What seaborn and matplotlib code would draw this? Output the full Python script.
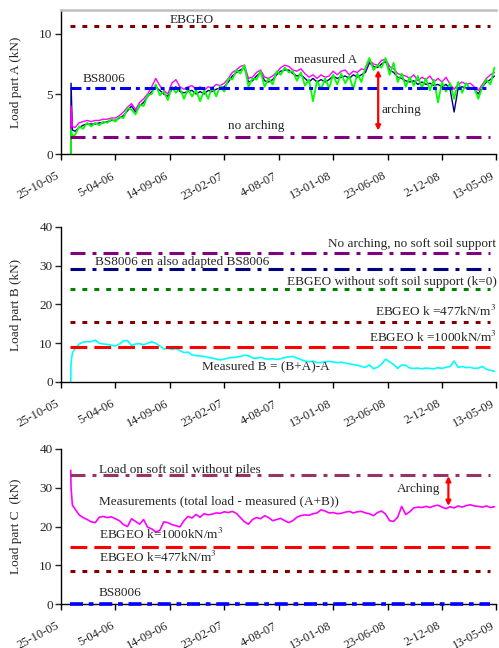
import pandas as pd
import numpy as np
import seaborn as sns
import matplotlib.pyplot as plt
from matplotlib.transforms import ScaledTranslation

sns.set_style('ticks')
plt.rcParams['font.family'] = ['Liberation Serif', 'DejaVu Serif']
plt.rcParams['mathtext.fontset'] = 'stix'

# x axis: dates (day offsets from 25-10-2005)
start = pd.Timestamp('2005-10-25')
tick_labels = ['25-10-05', '5-04-06', '14-09-06', '23-02-07', '4-08-07',
               '13-01-08', '23-06-08', '2-12-08', '13-05-09']
days = [29, 30, 34] + list(range(42, 1302, 12))

# part A (three measurement lines)
a_navy = [0.0, 5.9, 2.0,
          1.9, 2.2, 2.4, 2.5, 2.5, 2.5, 2.6, 2.6, 2.7, 2.8,
          2.8, 3.0, 3.2, 3.6, 4.0, 3.5, 4.0, 4.3, 4.8, 5.2,
          5.6, 5.3, 5.0, 4.8, 5.4, 5.6, 5.2, 5.1, 5.2, 5.3,
          5.0, 5.2, 5.0, 5.3, 5.2, 5.4, 5.5, 5.6, 6.0, 6.5,
          6.8, 7.0, 7.2, 6.0, 6.1, 6.5, 6.8, 6.1, 6.0, 6.2,
          6.6, 6.9, 7.0, 7.0, 6.7, 6.5, 6.6, 6.3, 6.0, 6.3,
          6.0, 6.2, 6.0, 6.2, 6.5, 6.3, 6.4, 6.5, 6.3, 6.6,
          6.4, 6.6, 6.8, 7.6, 7.3, 7.2, 7.5, 7.7, 7.0, 6.8,
          6.4, 6.3, 6.1, 6.0, 6.1, 5.8, 6.0, 5.8, 5.9, 5.7,
          5.8, 5.6, 5.8, 5.4, 3.5, 5.5, 5.6, 5.5, 5.5, 5.4,
          5.0, 5.6, 6.0, 6.2, 6.5]
a_magenta = [0.0, 4.0, 2.3,
             2.2, 2.6, 2.7, 2.8, 2.7, 2.8, 2.8, 2.9, 2.9, 3.0,
             3.0, 3.2, 3.5, 3.9, 4.2, 3.7, 4.3, 4.6, 5.0, 5.6,
             6.3, 5.7, 5.3, 5.0, 5.9, 6.2, 5.6, 5.4, 5.6, 5.7,
             5.4, 5.6, 5.3, 5.6, 5.5, 5.8, 5.7, 5.9, 6.3, 6.8,
             7.0, 7.3, 7.4, 6.3, 6.4, 6.8, 7.0, 6.4, 6.3, 6.5,
             6.8, 7.2, 7.4, 7.3, 7.0, 6.9, 7.1, 6.7, 6.4, 6.6,
             6.3, 6.6, 6.4, 6.5, 6.9, 6.6, 6.9, 7.0, 6.6, 6.9,
             6.8, 7.1, 7.0, 7.8, 7.5, 7.4, 7.8, 7.9, 7.3, 7.1,
             6.7, 6.6, 6.5, 6.3, 6.6, 6.1, 6.4, 6.2, 6.5, 6.0,
             6.3, 6.0, 6.4, 5.8, 5.4, 5.8, 6.0, 5.8, 5.9, 5.6,
             5.3, 5.8, 6.3, 6.6, 6.8]
a_green = [0.0, 2.0, 1.5,
           1.6, 2.3, 2.1, 2.6, 2.3, 2.6, 2.4, 2.7, 2.6, 2.9,
           2.7, 3.1, 3.0, 3.8, 3.7, 3.3, 4.1, 4.0, 4.9, 5.0,
           5.8, 4.9, 5.2, 4.5, 5.6, 5.1, 5.5, 4.6, 5.4, 4.8,
           5.3, 4.4, 5.3, 4.6, 5.6, 4.8, 5.7, 5.2, 6.3, 6.2,
           7.0, 6.7, 7.4, 5.6, 6.3, 6.2, 6.9, 5.6, 6.3, 5.8,
           6.9, 6.6, 7.2, 6.8, 6.9, 6.1, 6.8, 5.7, 6.2, 4.4,
           6.1, 5.4, 6.3, 5.5, 6.6, 5.8, 6.7, 5.9, 6.5, 5.4,
           6.7, 6.0, 7.2, 8.0, 7.0, 7.4, 7.2, 8.0, 6.6, 7.6,
           6.0, 6.7, 5.6, 6.4, 5.7, 6.5, 5.5, 6.3, 5.3, 6.2,
           4.3, 6.0, 5.2, 5.9, 4.6, 6.0, 5.1, 5.9, 5.4, 5.5,
           4.6, 5.6, 6.2, 5.8, 7.2]

# part B measured
b_meas = [0.0, 5.0, 7.5,
          8.6, 9.8, 10.3, 10.4, 10.4, 10.8, 10.0, 9.8, 9.7, 9.5,
          9.3, 9.8, 10.6, 10.7, 9.4, 9.8, 9.9, 9.6, 10.0, 10.4,
          10.0, 9.3, 8.5, 8.7, 8.4, 8.6, 8.1, 7.6, 7.7, 7.0,
          6.8, 6.7, 6.6, 6.3, 6.2, 5.9, 5.7, 5.9, 6.2, 6.3,
          6.4, 6.6, 6.9, 6.8, 6.2, 6.1, 6.4, 6.0, 5.9, 6.0,
          5.8, 6.0, 6.3, 6.5, 6.6, 6.2, 5.8, 5.4, 5.2, 5.4,
          5.0, 5.0, 5.2, 5.3, 5.2, 5.0, 5.1, 4.9, 4.7, 4.5,
          4.3, 4.0, 3.8, 4.4, 3.4, 3.8, 4.6, 5.9, 5.2, 4.5,
          3.5, 4.4, 4.3, 3.6, 3.5, 3.6, 3.4, 3.6, 3.5, 3.4,
          3.7, 3.5, 3.8, 4.0, 5.4, 3.8, 4.0, 3.7, 3.8, 3.5,
          3.6, 4.0, 3.3, 3.0, 2.8]

# part C measured (total load - measured (A+B))
c_meas = [34.5, 30.0, 25.5,
          24.5, 23.0, 22.3, 21.8, 21.2, 21.0, 22.4, 22.6, 22.3, 22.5,
          22.0, 21.5, 20.5, 20.0, 22.0, 21.3, 20.6, 21.8, 19.8, 19.4,
          18.6, 19.0, 21.2, 21.0, 20.5, 20.2, 19.9, 21.5, 22.6, 22.2,
          23.1, 22.4, 23.3, 23.0, 23.2, 23.5, 23.4, 23.8, 23.6, 23.9,
          23.4, 22.3, 21.2, 20.6, 21.8, 22.3, 22.0, 22.8, 22.3, 21.5,
          21.8, 22.1, 21.5, 21.0, 21.5, 22.4, 22.8, 23.0, 22.9, 23.3,
          23.5, 24.3, 24.0, 23.5, 23.6, 23.3, 23.4, 23.7, 23.9, 23.5,
          23.8, 23.9, 23.5, 23.3, 22.8, 23.6, 24.0, 23.2, 21.5, 21.3,
          22.4, 25.2, 23.1, 23.8, 24.8, 25.0, 24.9, 25.2, 24.9, 25.3,
          25.5, 25.0, 24.6, 25.1, 24.8, 25.3, 25.0, 25.4, 25.6, 25.3,
          25.2, 25.0, 25.3, 24.9, 25.1]

# design values (horizontal reference lines)
a_levels = [10.7, 5.47, 1.44]          # EBGEO, BS8006, no arching
b_levels = [33.2, 29.1, 23.9, 15.5, 9.1]
c_levels = [33.2, 14.7, 8.4, 0.0]

df = pd.DataFrame({'date': start + pd.to_timedelta(days, unit='D'),
                   'a_navy': a_navy, 'a_magenta': a_magenta, 'a_green': a_green,
                   'b': b_meas, 'c': c_meas})

line_start = start + pd.Timedelta(days=27)
line_end = start + pd.Timedelta(days=1276)

dotted = (0, (1.6, 2.3))
dashdot_s = (0, (3.6, 1.6, 1.3, 1.6))
dashdot_l = (0, (4.9, 2.3, 1.3, 2.3))
dashed = (0, (5.5, 2.3))

fig = plt.figure(figsize=(4.99, 6.48), dpi=100)
ax1 = fig.add_axes([0.1222, 0.7623, 0.8727, 0.2223])
ax2 = fig.add_axes([0.1222, 0.4105, 0.8727, 0.2392])
ax3 = fig.add_axes([0.1222, 0.0679, 0.8727, 0.2392])


def hline(ax, y, color, ls, lw=2.2, **kw):
    ax.plot([line_start, line_end], [y, y], color=color, linestyle=ls,
            lw=lw, solid_capstyle='butt', dash_capstyle='butt', **kw)


# --- part A
sns.lineplot(data=df, x='date', y='a_navy', ax=ax1, color='#000080', lw=1.0)
sns.lineplot(data=df, x='date', y='a_magenta', ax=ax1, color='#FF00FF', lw=1.0)
sns.lineplot(data=df, x='date', y='a_green', ax=ax1, color='#00FF00', lw=1.3)
hline(ax1, a_levels[0], '#800000', dotted)
hline(ax1, a_levels[1], '#0000FF', dashdot_s)
hline(ax1, a_levels[2], '#800080', dashdot_l)
ax1.set_ylim(0, 12)
ax1.set_yticks([0, 5, 10])
ax1.text(start + pd.Timedelta(days=390), 11.2, 'EBGEO', fontsize=9.5, ha='center', va='center')
ax1.text(start + pd.Timedelta(days=63), 6.25, 'BS8006', fontsize=9.5, va='center')
ax1.text(start + pd.Timedelta(days=694), 7.8, 'measured A', fontsize=9.5, va='center')
ax1.text(start + pd.Timedelta(days=954), 3.7, 'arching', fontsize=9.5, va='center')
ax1.text(start + pd.Timedelta(days=497), 2.35, 'no arching', fontsize=9.5, va='center')
arr_a = start + pd.Timedelta(days=944)
ax1.annotate('', xy=(arr_a, 1.95), xytext=(arr_a, 7.0),
             arrowprops=dict(arrowstyle='<|-|>', color='#FF0000', lw=1.6,
                             mutation_scale=7, shrinkA=0, shrinkB=0))
ax1.set_ylabel('Load part A (kN)')

# --- part B
sns.lineplot(data=df, x='date', y='b', ax=ax2, color='#00FFFF', lw=1.2)
hline(ax2, b_levels[0], '#800080', dashdot_l)
hline(ax2, b_levels[1], '#000080', dashdot_l)
hline(ax2, b_levels[2], '#008000', dotted)
hline(ax2, b_levels[3], '#800000', dotted)
hline(ax2, b_levels[4], '#FF0000', dashed)
ax2.set_ylim(0, 40)
ax2.set_yticks([0, 10, 20, 30, 40])
ax2.text(1.0, 35.6, 'No arching, no soft soil support', transform=ax2.get_yaxis_transform(),
         fontsize=9.5, ha='right', va='center')
ax2.text(start + pd.Timedelta(days=101), 31.0, 'BS8006 en also adapted BS8006', fontsize=9.5, va='center')
ax2.text(1.0, 25.8, 'EBGEO without soft soil support (k=0)', transform=ax2.get_yaxis_transform(),
         fontsize=9.5, ha='right', va='center')
ax2.text(1.0, 18.3, 'EBGEO k =477kN/m$^3$', transform=ax2.get_yaxis_transform(),
         fontsize=9.5, ha='right', va='center')
ax2.text(1.0, 11.4, 'EBGEO k =1000kN/m$^3$', transform=ax2.get_yaxis_transform(),
         fontsize=9.5, ha='right', va='center')
ax2.text(start + pd.Timedelta(days=420), 4.0, 'Measured B = (B+A)-A', fontsize=9.5, va='center')
ax2.set_ylabel('Load part B (kN)')

# --- part C
sns.lineplot(data=df, x='date', y='c', ax=ax3, color='#FF00FF', lw=1.2)
hline(ax3, c_levels[0], '#993366', dashdot_l)
hline(ax3, c_levels[1], '#FF0000', dashed)
hline(ax3, c_levels[2], '#800000', dotted)
hline(ax3, c_levels[3], '#0000FF', dashdot_s, lw=2.6, clip_on=False, zorder=5)
ax3.set_ylim(0, 40)
ax3.set_yticks([0, 10, 20, 30, 40])
tx = start + pd.Timedelta(days=113)
ax3.text(tx, 34.7, 'Load on soft soil without piles', fontsize=9.5, va='center')
ax3.text(tx, 26.5, 'Measurements (total load - measured (A+B))', fontsize=9.5, va='center')
ax3.text(tx, 17.9, 'EBGEO k=1000kN/m$^3$', fontsize=9.5, va='center')
ax3.text(tx, 11.9, 'EBGEO k=477kN/m$^3$', fontsize=9.5, va='center')
ax3.text(tx, 2.9, 'BS8006', fontsize=9.5, va='center')
ax3.text(start + pd.Timedelta(days=1001), 29.8, 'Arching', fontsize=9.5, va='center')
arr_c = start + pd.Timedelta(days=1153)
ax3.annotate('', xy=(arr_c, 25.3), xytext=(arr_c, 33.0),
             arrowprops=dict(arrowstyle='<|-|>', color='#FF0000', lw=1.6,
                             mutation_scale=7, shrinkA=0, shrinkB=0))
ax3.set_ylabel('Load part C  (kN)')

# date labels drawn as rotated texts so they can sit left of their ticks
tick_dates = pd.to_datetime(tick_labels, format='%d-%m-%y')
shift = ScaledTranslation(-5 / 100, -16 / 100, fig.dpi_scale_trans)
for ax in (ax1, ax2, ax3):
    ax.set_xlim(tick_dates[0], tick_dates[-1])
    ax.set_xticks(tick_dates)
    ax.set_xticklabels([])
    for d, lab in zip(tick_dates, tick_labels):
        ax.text(d, 0, lab, transform=ax.get_xaxis_transform() + shift,
                rotation=28, ha='right', va='top', rotation_mode='anchor',
                fontsize=9, clip_on=False)
    ax.set_xlabel('')
    ax.tick_params(axis='x', direction='out', length=4, width=1, colors='black')
    ax.tick_params(axis='y', direction='out', length=4, width=1, labelsize=9.5, pad=2)
    ax.yaxis.label.set_fontsize(9.5)
    ax.yaxis.set_label_coords(-0.09, 0.5)
    sns.despine(ax=ax)
    ax.spines['left'].set_color('black')
    ax.spines['bottom'].set_color('black')
    ax.spines['left'].set_linewidth(1)
    ax.spines['bottom'].set_linewidth(1)
    ax.grid(False)

ax1.spines['top'].set_visible(True)
ax1.spines['top'].set_color('#BFBFBF')
ax1.spines['top'].set_linewidth(1.8)

fig.savefig('out.png', dpi=100)
